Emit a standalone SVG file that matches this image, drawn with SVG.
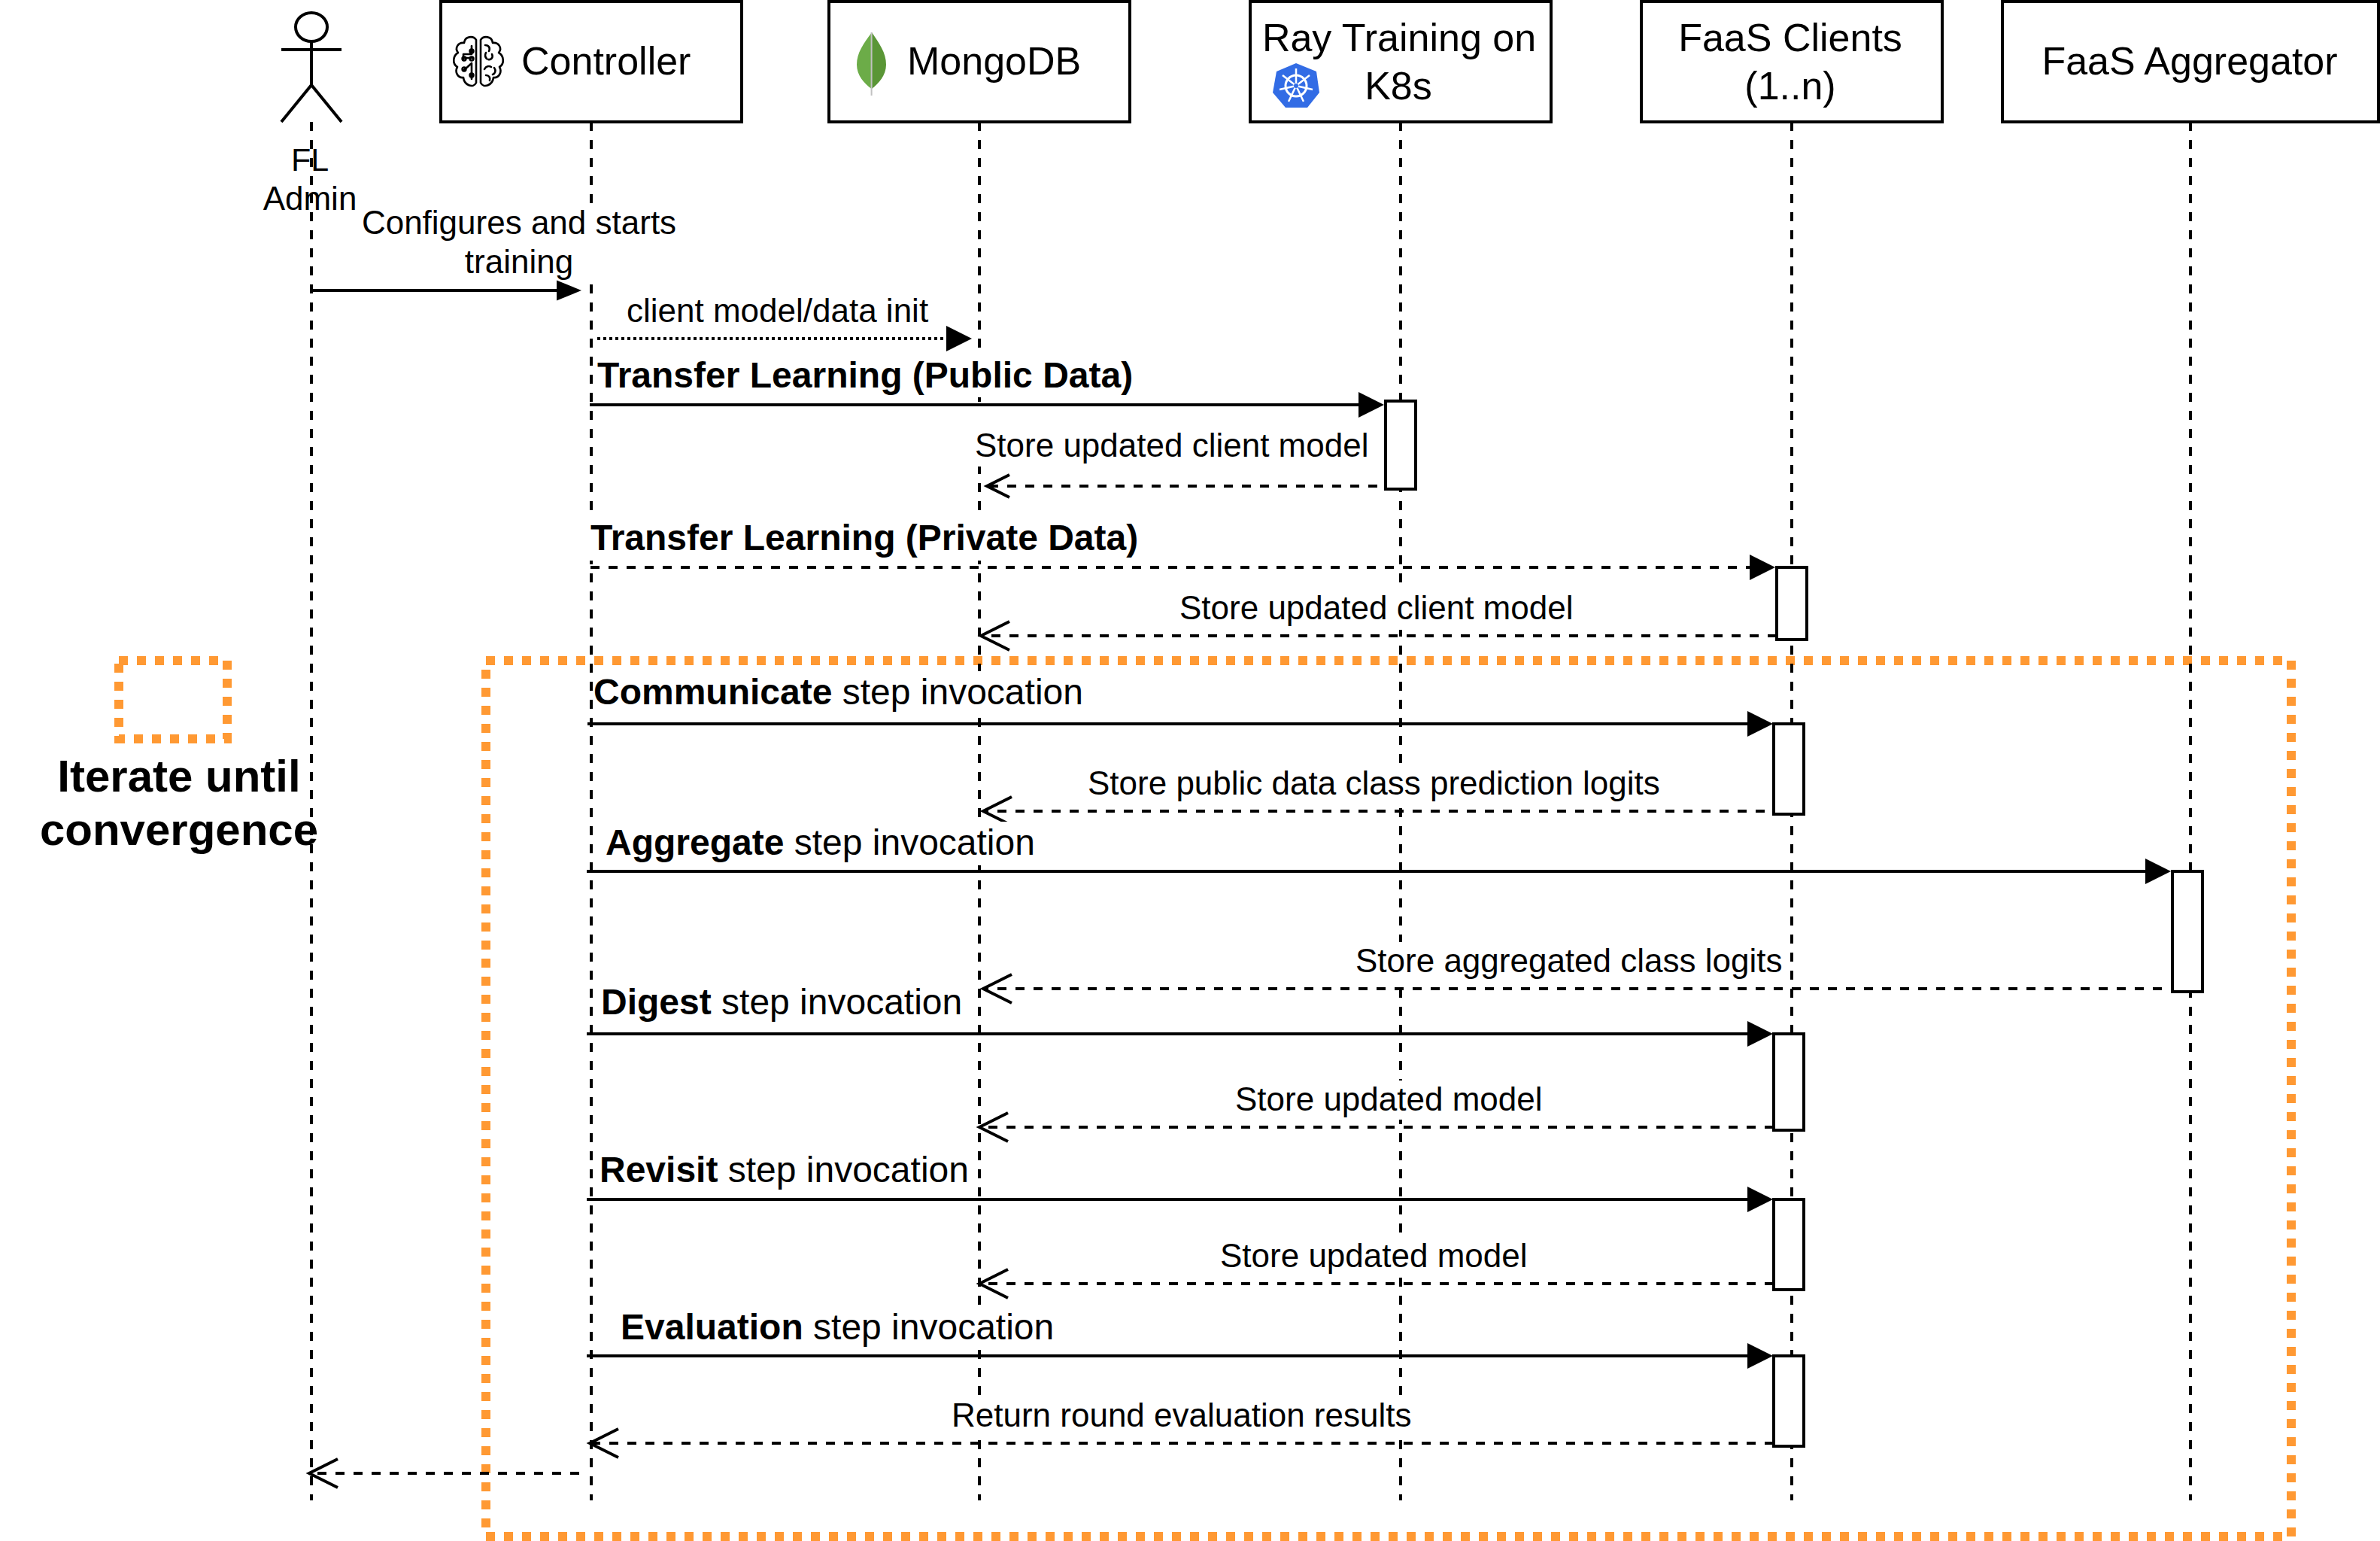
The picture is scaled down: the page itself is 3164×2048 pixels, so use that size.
<svg xmlns="http://www.w3.org/2000/svg" width="3164" height="2048" viewBox="0 0 3164 2048">
<style>
text{font-family:"Liberation Sans",Arial,sans-serif;fill:#000}
.t44{font-size:44px}
.t48{font-size:48px}
.t52{font-size:52px}
.mid{text-anchor:middle}
.b{font-weight:bold}
.box{fill:#fff;stroke:#000;stroke-width:4}
.life{stroke:#000;stroke-width:4;stroke-dasharray:12 12;fill:none}
.solid{stroke:#000;stroke-width:4;fill:none;marker-end:url(#block)}
.dash{stroke:#000;stroke-width:4;fill:none;stroke-dasharray:12 12}
.dot{stroke:#000;stroke-width:4;fill:none;stroke-dasharray:4 4}
.ret{marker-end:url(#open)}
.bg{fill:#fff}
.frame{fill:none;stroke:#FF9933;stroke-width:12;stroke-dasharray:12 12}
.actor{fill:none;stroke:#000;stroke-width:4}
.brain{fill:none;stroke:#000;stroke-width:2.6;stroke-linecap:round;stroke-linejoin:round}
</style>
<defs>
<marker id="block" markerUnits="userSpaceOnUse" markerWidth="34" markerHeight="34" refX="14" refY="17" orient="auto" overflow="visible"><polygon points="0,0 34,17 0,34" fill="#000"/></marker>
<marker id="block-sm" markerUnits="userSpaceOnUse" markerWidth="33" markerHeight="27" refX="13" refY="13.5" orient="auto" overflow="visible"><polygon points="0,0 33,13.5 0,27" fill="#000"/></marker>
<marker id="open" markerUnits="userSpaceOnUse" markerWidth="40" markerHeight="42" refX="38" refY="21" orient="auto" overflow="visible"><path d="M0,2 L38,21 L0,40" fill="none" stroke="#000" stroke-width="4"/></marker>
<marker id="open-sm" markerUnits="userSpaceOnUse" markerWidth="34" markerHeight="34" refX="30" refY="17" orient="auto" overflow="visible"><path d="M0,2 L30,17 L0,32" fill="none" stroke="#000" stroke-width="4"/></marker>
</defs>
<rect width="3164" height="2048" fill="#fff"/>

<g id="iteration-frame">
<rect class="frame" x="646" y="878" width="2400" height="1164"/>
</g>
<g id="iteration-legend">
<rect class="frame" x="158" y="878" width="144" height="104"/>
<text class="b mid" font-size="60" x="238" y="1052">Iterate until</text>
<text class="b mid" font-size="60" x="238" y="1123">convergence</text>
</g>

<g id="fl-admin">
<ellipse class="actor" cx="414" cy="36" rx="21" ry="19"/>
<path class="actor" d="M414 55V113M374 66H454M374 162L414 113L454 162"/>
<path class="life" d="M414 162V1994"/>
<text class="mid" font-size="43" x="412" y="227">FL</text>
<text class="t44 mid" x="412" y="279">Admin</text>
</g>
<g id="controller">
<path class="life" d="M786 162V1994"/>
<rect class="box" x="586" y="2" width="400" height="160"/>
<g id="brain-icon" class="brain">
<path d="M633 53C629 47 618 48 617 57C609 56 604 64 609 70C602 74 601 85 608 89C604 96 609 104 616 103C617 113 629 118 633 110Z"/>
<path d="M639 53C643 47 654 48 655 57C663 56 668 64 663 70C670 74 671 85 664 89C668 96 663 104 656 103C655 113 643 118 639 110Z"/>
<path d="M627 61V72H616V80M627 84V105M627 84L617 93M627 77H616"/>
<circle cx="627" cy="68" r="2.4"/><circle cx="617" cy="78" r="2.4"/><circle cx="627" cy="78" r="2.4"/><circle cx="617" cy="92" r="2.4"/><circle cx="627" cy="100" r="2.4"/>
<path d="M645 60C650 60 652 64 650 68M654 72C656 76 653 80 649 79M646 70C644 74 645 76 647 78M644 92C646 88 650 87 653 89M657 90C660 94 658 98 655 99M646 100C650 100 652 103 651 107"/>
</g>
<text class="t52" x="693" y="99">Controller</text>
</g>
<g id="mongodb">
<path class="life" d="M1302 162V1994"/>
<rect class="box" x="1102" y="2" width="400" height="160"/>
<g id="leaf-icon">
<path d="M1159 43C1148 58 1139 70 1139 86C1139 100 1149 111 1158.6 118V43Z" fill="#6CAC48"/>
<path d="M1159 43C1169 58 1178 70 1178 86C1178 100 1168 111 1159 118V43Z" fill="#5A9636"/>
<path d="M1158.6 43V127" stroke="#C1C1C1" stroke-width="2" fill="none"/>
</g>
<text class="t52" x="1206" y="99">MongoDB</text>
</g>
<g id="ray-training">
<path class="life" d="M1862 162V1994"/>
<rect class="box" x="1662" y="2" width="400" height="160"/>
<g id="k8s-icon">
<polygon points="1723,84 1750,95 1754,123 1738,143 1709,143 1692,123 1697,95" fill="#326CE5"/>
<circle cx="1723" cy="114" r="14" fill="none" stroke="#fff" stroke-width="3"/>
<path d="M1723 114L1723 91M1723 114L1741 100M1723 114L1745 119M1723 114L1733 135M1723 114L1713 135M1723 114L1701 119M1723 114L1705 100" stroke="#fff" stroke-width="2.5" fill="none"/>
<circle cx="1723" cy="114" r="3" fill="#326CE5"/>
</g>
<text class="t52 mid" x="1860" y="68">Ray Training on</text>
<text class="t52 mid" x="1859" y="132">K8s</text>
</g>
<g id="faas-clients">
<path class="life" d="M2382 162V1994"/>
<rect class="box" x="2182" y="2" width="400" height="160"/>
<text class="t52 mid" x="2380" y="68">FaaS Clients</text>
<text class="t52 mid" x="2380" y="132">(1..n)</text>
</g>
<g id="faas-aggregator">
<path class="life" d="M2912 162V1994"/>
<rect class="box" x="2662" y="2" width="500" height="160"/>
<text class="t52 mid" x="2911" y="99">FaaS Aggregator</text>
</g>

<g id="connectors">
<rect class="bg" x="480" y="270" width="420" height="106"/>
<text class="t44 mid" x="690" y="311">Configures and starts</text>
<text class="t44 mid" x="690" y="363">training</text>
<path d="M414 386H753" stroke="#000" stroke-width="4" marker-end="url(#block-sm)"/>

<path class="dot" d="M794 450H1272" marker-end="url(#block)"/>
<text class="t44" x="833" y="428">client model/data init</text>

<rect class="bg" x="1296" y="541" width="522" height="79"/>
<text class="t44" x="1296" y="607">Store updated client model</text>
<path class="dash" d="M1855 646H1312" marker-end="url(#open-sm)"/>

<rect class="bg" x="794" y="471" width="712" height="57"/>
<text class="t48 b" x="794" y="515">Transfer Learning (Public Data)</text>
<path class="solid" d="M784 538H1820"/>

<rect class="bg" x="783" y="689" width="730" height="56"/>
<text class="t48 b" x="785" y="731">Transfer Learning (Private Data)</text>
<path class="dash" d="M785 754H2340" marker-end="url(#block)"/>

<rect class="bg" x="1566" y="783" width="524" height="54"/>
<text class="t44" x="1568" y="823">Store updated client model</text>
<path class="dash ret" d="M2362 845H1304"/>

<rect class="bg" x="789" y="892" width="650" height="61"/>
<text class="t48" x="789" y="936"><tspan class="b">Communicate</tspan> step invocation</text>
<path class="solid" d="M781 962H2337"/>

<rect class="bg" x="1444" y="1016" width="766" height="54"/>
<text class="t44" x="1446" y="1056">Store public data class prediction logits</text>
<path class="dash ret" d="M2370 1078H1307"/>

<rect class="bg" x="805" y="1092" width="573" height="58"/>
<text class="t48" x="805" y="1136"><tspan class="b">Aggregate</tspan> step invocation</text>
<path class="solid" d="M780 1158H2866"/>

<rect class="bg" x="1800" y="1252" width="567" height="54"/>
<text class="t44" x="1802" y="1292">Store aggregated class logits</text>
<path class="dash ret" d="M2898 1314H1307"/>

<rect class="bg" x="799" y="1304" width="482" height="58"/>
<text class="t48" x="799" y="1348"><tspan class="b">Digest</tspan> step invocation</text>
<path class="solid" d="M780 1374H2337"/>

<rect class="bg" x="1640" y="1436" width="414" height="52"/>
<text class="t44" x="1642" y="1476">Store updated model</text>
<path class="dash ret" d="M2358 1498H1302"/>

<rect class="bg" x="797" y="1527" width="494" height="58"/>
<text class="t48" x="797" y="1571"><tspan class="b">Revisit</tspan> step invocation</text>
<path class="solid" d="M780 1594H2337"/>

<rect class="bg" x="1620" y="1644" width="412" height="54"/>
<text class="t44" x="1622" y="1684">Store updated model</text>
<path class="dash ret" d="M2358 1706H1302"/>

<rect class="bg" x="825" y="1736" width="578" height="58"/>
<text class="t48" x="825" y="1780"><tspan class="b">Evaluation</tspan> step invocation</text>
<path class="solid" d="M780 1802H2337"/>

<rect class="bg" x="1263" y="1856" width="618" height="54"/>
<text class="t44" x="1265" y="1896">Return round evaluation results</text>
<path class="dash ret" d="M2358 1918H784"/>

<path class="dash ret" d="M770 1958H411"/>
</g>

<g id="activation-ray"><rect class="box" x="1842" y="533" width="40" height="117"/></g>
<g id="activation-transfer"><rect class="box" x="2362" y="754" width="40" height="96"/></g>
<g id="activation-communicate"><rect class="box" x="2358" y="962" width="40" height="120"/></g>
<g id="activation-aggregate"><rect class="box" x="2888" y="1158" width="40" height="160"/></g>
<g id="activation-digest"><rect class="box" x="2358" y="1374" width="40" height="128"/></g>
<g id="activation-revisit"><rect class="box" x="2358" y="1594" width="40" height="120"/></g>
<g id="activation-evaluation"><rect class="box" x="2358" y="1802" width="40" height="120"/></g>
</svg>
